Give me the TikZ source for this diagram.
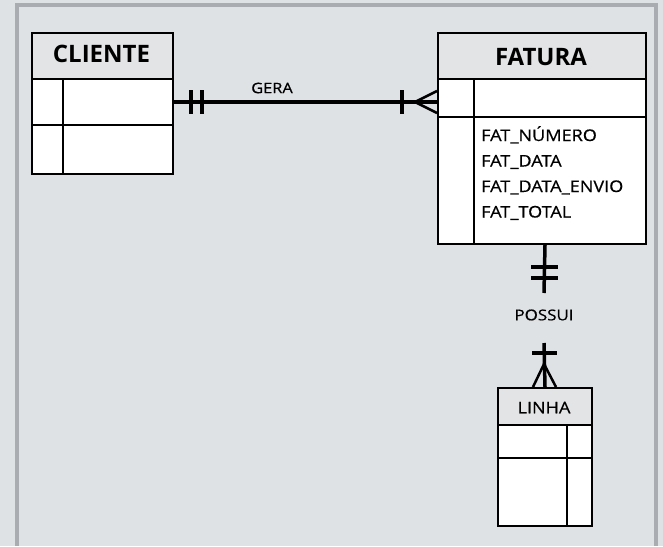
\documentclass[tikz,border=0pt]{standalone}
\usepackage{fontspec}
\setmainfont{Open Sans}
\newfontfamily\widesans[FakeStretch=1.13,FakeBold=0.6]{Open Sans}
\usetikzlibrary{calc}

\definecolor{paper}{HTML}{DFE2E5}
\definecolor{rim}{HTML}{A9ACB0}
\definecolor{headfill}{HTML}{E3E4E6}

\begin{document}
\begin{tikzpicture}[x=1pt,y=-1pt,
  entityhead/.style={draw=black, line width=2pt, fill=headfill, inner sep=0pt, anchor=north west},
  entitybody/.style={draw=black, line width=2pt, fill=white, inner sep=0pt, anchor=north west},
  divider/.style={black, line width=2pt},
  rel/.style={black, line width=3.5pt},
  tick/.style={black, line width=3.5pt},
  crow/.style={black, line width=2.5pt},
  title/.style={font=\fontsize{24}{24}\selectfont\bfseries, inner sep=0pt, text height=17pt, text depth=0pt},
  attr/.style={font=\widesans\fontsize{16}{16}\selectfont, inner sep=0pt, anchor=base west},
  rellabel/.style={font=\widesans\fontsize{15}{15}\selectfont, inner sep=0pt, text height=10.7pt, text depth=0pt}
]
% background and frame
\fill[paper] (0,0) rectangle (663,546);
\useasboundingbox (0,0) rectangle (663,546);
\draw[rim, line width=4pt] (16.5,546) -- (16.5,5) -- (656,5) -- (656,546);

% CLIENTE
\node[entitybody, minimum width=141pt, minimum height=95pt] (cliB) at (31,78) {};
\node[entityhead, minimum width=141pt, minimum height=46pt] (cliH) at (31,32) {};
\node[title] (cliT) at (101.5,53.5) {CLIENTE};
\draw[divider] (cliB.north west) ++(32,0) -- ++(0,95);
\draw[divider] (cliB.west) ++(0,-1.5) -- ++(141,0);

% FATURA
\node[entitybody, minimum width=208pt, minimum height=165pt] (fatB) at (437,78) {};
\node[entityhead, minimum width=208pt, minimum height=46pt] (fatH) at (437,32) {};
\node[title] (fatT) at (541,56.5) {FATURA};
\draw[divider] (fatB.north west) ++(37,0) -- ++(0,165);
\draw[divider] (fatB.north west) ++(0,39) -- ++(208,0);
\node[attr] (a1) at (481,141) {FAT\_NÚMERO};
\node[attr] (a2) at (481,166.5) {FAT\_DATA};
\node[attr] (a3) at (481,192) {FAT\_DATA\_ENVIO};
\node[attr] (a4) at (481,217.5) {FAT\_TOTAL};

% LINHA
\node[entitybody, minimum width=94pt, minimum height=101pt] (linB) at (497,424) {};
\node[entityhead, minimum width=94pt, minimum height=37pt] (linH) at (497,387) {};
\node[rellabel, font=\widesans\fontsize{16}{16}\selectfont, text height=11.5pt] (linT) at (544,407.5) {LINHA};
\draw[divider] (linB.north west) ++(70,0) -- ++(0,101);
\draw[divider] (linB.north west) ++(0,34) -- ++(94,0);

% GERA: CLIENTE (one and only one) to FATURA (one or many)
\coordinate (geraY) at (0,102);
\coordinate (geraApex) at (415,102);
\draw[rel] (cliB.east |- geraY) -- (fatB.west |- geraY);
\draw[tick] (191,90) -- (191,114);
\draw[tick] (202,90) -- (202,114);
\draw[tick] (402,90) -- (402,114);
\draw[crow] (fatB.west |- 0,91) -- (geraApex) -- (fatB.west |- 0,113);
\node[rellabel, font=\widesans\fontsize{14.5}{14.5}\selectfont, text height=10.3pt] (gera) at (272,88) {GERA};

% POSSUI: FATURA (one and only one) to LINHA (one or many)
\coordinate (possTop) at (544,293);
\coordinate (possBot) at (544,343);
\coordinate (possApex) at (544,364);
\draw[rel] (fatB.south -| linH.north) -- (possTop);
\draw[rel] (possBot) -- (linH.north);
\draw[tick] (531,267) -- (558,267);
\draw[tick] (531,278) -- (558,278);
\draw[tick] (532,353) -- (557,353);
\draw[crow] (533,387) -- (possApex) -- (556,387);
\node[rellabel] (possui) at (544,315) {POSSUI};
\end{tikzpicture}
\end{document}
